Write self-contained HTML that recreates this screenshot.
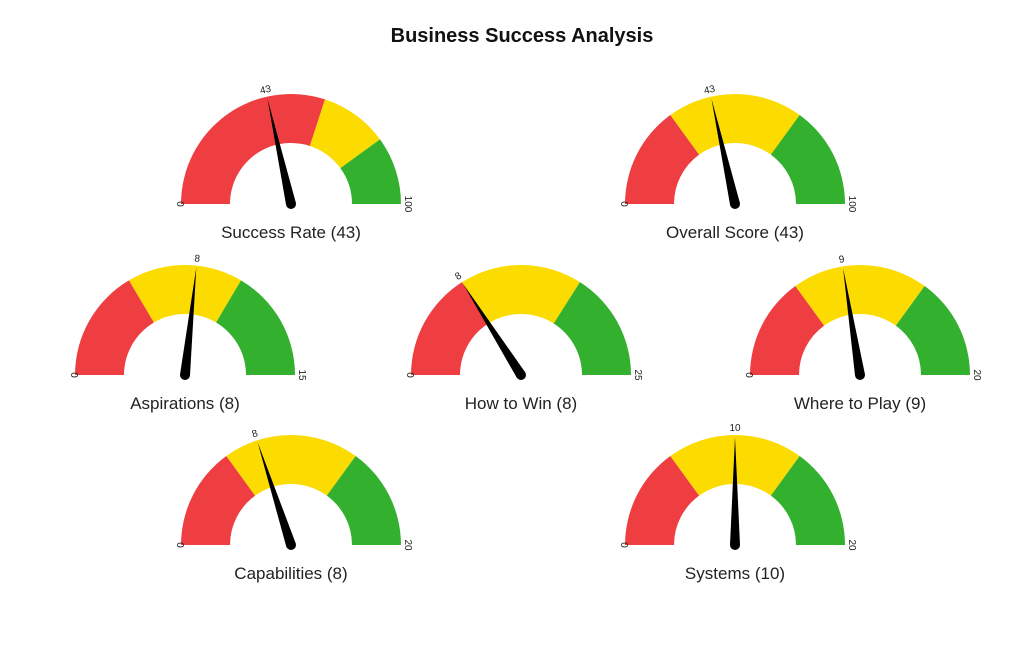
<!DOCTYPE html>
<html><head><meta charset="utf-8">
<style>
html,body{margin:0;padding:0;background:#fff;}
body{width:1024px;height:649px;overflow:hidden;font-family:"Liberation Sans",Arial,sans-serif;}
</style></head>
<body>
<svg id="chart" width="1024" height="649" xmlns="http://www.w3.org/2000/svg">
<text x="522" y="42" text-anchor="middle" font-size="20" font-weight="bold" fill="#111">Business Success Analysis</text>
</svg>
<script>
const labels = ["Success Rate","Overall Score","Aspirations","How to Win","Where to Play","Capabilities","Systems"];
const values = [43,43,8,8,9,8,10];
const maxVals = [100,100,15,25,20,20,20];
const redEnds = [0.6,0.3,0.33,0.32,0.3,0.3,0.3];
const yellowEnds = [0.8,0.7,0.67,0.68,0.7,0.7,0.7];
const centers = [[291,204],[735,204],[185,375],[521,375],[860,375],[291,545],[735,545]];
const R = 110, r = 61;
const NS = "http://www.w3.org/2000/svg";
const svg = document.getElementById('chart');
function pt(cx,cy,rad,f){const a=Math.PI*(1-f);return [cx+rad*Math.cos(a), cy-rad*Math.sin(a)];}
function seg(cx,cy,f0,f1,col,name){
  const a=pt(cx,cy,R,f0),b=pt(cx,cy,R,f1),c=pt(cx,cy,r,f1),d=pt(cx,cy,r,f0);
  const p=document.createElementNS(NS,'path');
  p.setAttribute('d',`M${a[0]},${a[1]} A${R},${R} 0 0 1 ${b[0]},${b[1]} L${c[0]},${c[1]} A${r},${r} 0 0 0 ${d[0]},${d[1]} Z`);
  p.setAttribute('fill',col);
  
  
  return p;
}
function txt(x,y,s,size,rot){
  const t=document.createElementNS(NS,'text');
  t.setAttribute('x',x);t.setAttribute('y',y);t.setAttribute('font-size',size);
  t.setAttribute('text-anchor','middle');t.setAttribute('fill','#222');
  if(rot!==undefined)t.setAttribute('transform',`rotate(${rot} ${x} ${y})`);
  t.textContent=s;return t;
}
labels.forEach((lab,i)=>{
  const [cx,cy]=centers[i];
  const g=document.createElementNS(NS,'g');
  
  
  g.appendChild(seg(cx,cy,0,redEnds[i],'#ee3e42','red-zone'));
  g.appendChild(seg(cx,cy,redEnds[i],yellowEnds[i],'#fcdb00','yellow-zone'));
  g.appendChild(seg(cx,cy,yellowEnds[i],1,'#33b02e','green-zone'));
  const f=values[i]/maxVals[i];
  const a=Math.PI*(1-f);
  const tip=pt(cx,cy,108,f);
  const px=Math.sin(a)*5, py=Math.cos(a)*5;
  const n=document.createElementNS(NS,'path');
  n.setAttribute('d',`M${tip[0]},${tip[1]} L${cx+px},${cy+py} L${cx-px},${cy-py} Z`);
  n.setAttribute('fill','#000');
  
  
  g.appendChild(n);
  const hub=document.createElementNS(NS,'circle');
  hub.setAttribute('cx',cx);hub.setAttribute('cy',cy);hub.setAttribute('r',5);hub.setAttribute('fill','#000');
  
  
  g.appendChild(hub);
  const lp=pt(cx,cy,R+4,f);
  const vt=txt(lp[0],lp[1],String(values[i]),10,(f-0.5)*180);
  
  
  g.appendChild(vt);
  const z=txt(cx-R-4,cy,'0',10,90);
  
  
  g.appendChild(z);
  const m=txt(cx+R+4,cy,String(maxVals[i]),10,90);
  
  
  g.appendChild(m);
  const tt=txt(cx,cy+34,`${lab} (${values[i]})`,17);
  
  
  g.appendChild(tt);
  svg.appendChild(g);
});
</script>
</body></html>
